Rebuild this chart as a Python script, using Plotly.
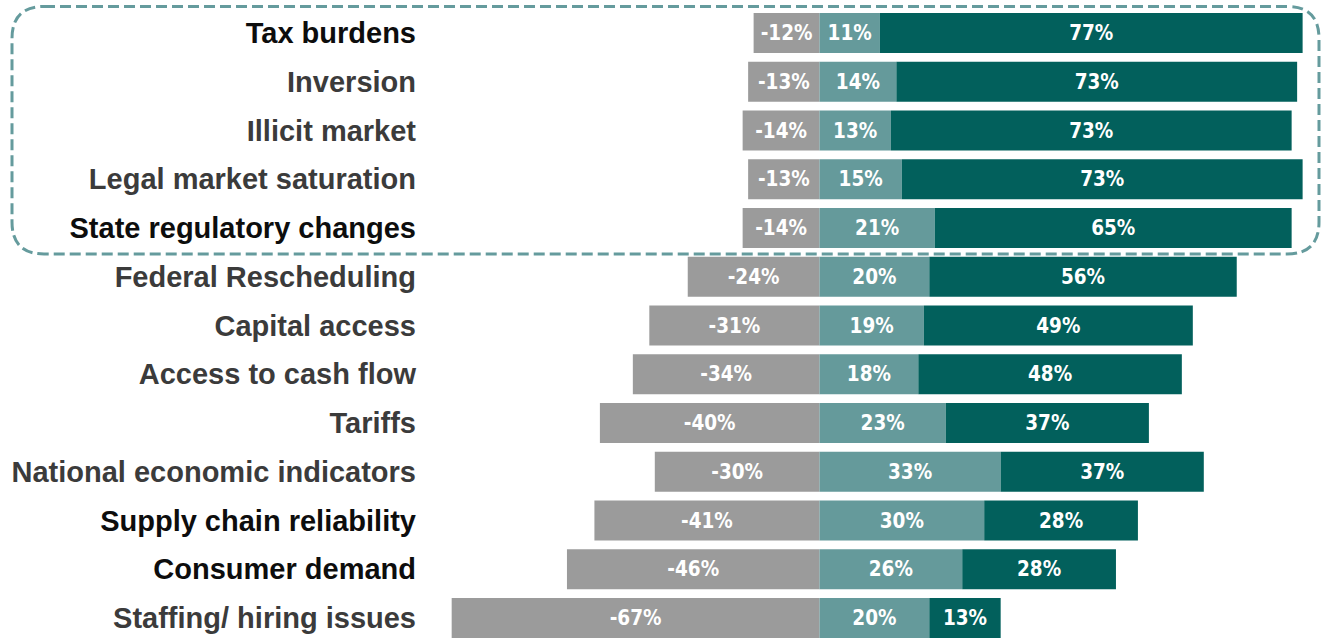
import plotly.graph_objects as go

categories = ["Tax burdens", "Inversion", "Illicit market", "Legal market saturation",
              "State regulatory changes", "Federal Rescheduling", "Capital access",
              "Access to cash flow", "Tariffs", "National economic indicators",
              "Supply chain reliability", "Consumer demand", "Staffing/ hiring issues"]
negative = [-12, -13, -14, -13, -14, -24, -31, -34, -40, -30, -41, -46, -67]
moderate = [11, 14, 13, 15, 21, 20, 19, 18, 23, 33, 30, 26, 20]
strong = [77, 73, 73, 73, 65, 56, 49, 48, 37, 37, 28, 28, 13]
emphasized = ["Tax burdens", "State regulatory changes", "Supply chain reliability", "Consumer demand"]

W, H = 1321, 638
zero_px = 819.5
px_per_pct = 5.49
plot_left = 430
pitch = 48.75
first_center = 33

x_range = [-(zero_px - plot_left) / px_per_pct, (W - zero_px) / px_per_pct]
y_range = [(H - first_center) / pitch, -first_center / pitch]

label_font = dict(family="DejaVu Sans Condensed, Liberation Sans Narrow, sans-serif",
                  size=20.5, color="white", weight="bold")

fig = go.Figure()
series = [(negative, "#9b9b9b"), (moderate, "#659a9b"), (strong, "#02605c")]
for vals, col in series:
    fig.add_trace(go.Bar(
        y=categories, x=vals, orientation="h",
        marker=dict(color=col, line=dict(width=0)),
        text=[f"{v}%" for v in vals], textposition="inside",
        insidetextanchor="middle", constraintext="none",
        textfont=label_font, hoverinfo="skip", showlegend=False,
    ))

ticktext = [f"<span style='color:{'#0d0d0d' if c in emphasized else '#3b3b3b'}'>{c}</span>"
            for c in categories]

def px(x):
    return x / W

def py(y):
    return 1 - y / H

x0, x1, y0, y1, r = 12, 1319, 6.5, 254, 32
path = (f"M {px(x0 + r)},{py(y0)} L {px(x1 - r)},{py(y0)} "
        f"Q {px(x1)},{py(y0)} {px(x1)},{py(y0 + r)} "
        f"L {px(x1)},{py(y1 - r)} Q {px(x1)},{py(y1)} {px(x1 - r)},{py(y1)} "
        f"L {px(x0 + r)},{py(y1)} Q {px(x0)},{py(y1)} {px(x0)},{py(y1 - r)} "
        f"L {px(x0)},{py(y0 + r)} Q {px(x0)},{py(y0)} {px(x0 + r)},{py(y0)} Z")

fig.add_shape(type="path", path=path, xref="paper", yref="paper",
              line=dict(color="#659b9d", width=3, dash="11px,5px"),
              fillcolor="rgba(0,0,0,0)", layer="above")

fig.update_layout(
    width=W, height=H, barmode="relative", bargap=0.18,
    margin=dict(l=0, r=0, t=0, b=0),
    paper_bgcolor="white", plot_bgcolor="white",
    xaxis=dict(domain=[plot_left / W, 1], range=x_range, showgrid=False,
               zeroline=False, showticklabels=False, showline=False, fixedrange=True),
    yaxis=dict(type="category", categoryorder="array", categoryarray=categories,
               range=y_range, tickvals=categories, ticktext=ticktext,
               ticks="", showgrid=False, showline=False, ticklabelstandoff=13,
               tickfont=dict(family="Liberation Sans, Arial, sans-serif", size=29,
                             weight="bold", color="#333333"),
               fixedrange=True),
)

fig.write_html("out.html", config={"displayModeBar": False},
               post_script="document.body.style.margin='0';"
                           "document.documentElement.style.overflow='hidden';")
